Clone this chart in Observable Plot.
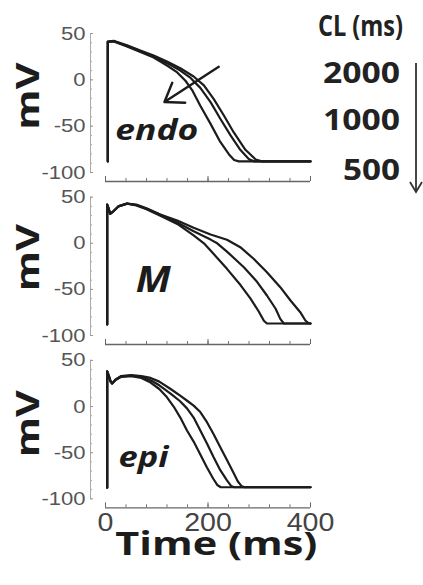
<!DOCTYPE html>
<html>
<head>
<meta charset="utf-8">
<script src="https://cdn.jsdelivr.net/npm/d3@7"></script>
<script src="https://cdn.jsdelivr.net/npm/@observablehq/plot@0.6"></script>
<style>
  body { margin: 0; background: #fff; }
  #chart { position: relative; width: 423px; height: 585px; overflow: hidden; background: #fff; }
  #chart svg { display: block; }
  #legend { position: absolute; left: 0; top: 0; pointer-events: none; }
</style>
</head>
<body>
<div id="chart"></div>
<script>
// ---------------- data ----------------
const cycleLengths = [2000, 1000, 500];
const legendTitle = "CL (ms)";
const panelNames = ["endo", "M", "epi"];
const yLabel = "mV";
const xLabel = "Time (ms)";
const yTicks = [-100, -50, 0, 50];
const yMinorTicks = [-100, -90, -80, -70, -60, -50, -40, -30, -20, -10, 0, 10, 20, 30, 40, 50];
const xTicks = [0, 200, 400];
const xMinorTicks = [0, 40, 80, 120, 160, 200, 240, 280, 320, 360, 400];

// [time (ms), membrane potential (mV)]
const endo500 = [[4.5,-88],[4.5,41],[16,41.5],[42,36],[68,30],[94,24],[120,15.5],[140,8],[156,-1],[169,-11],[185,-28],[205,-47.5],[224,-67],[241,-80.5],[251,-86.5],[260,-88],[400,-88]];
const endo1000 = [[4.5,-88],[4.5,41],[16,41.7],[42,36.6],[68,31],[94,25],[120,18],[146,10],[166,2],[185,-8.7],[205,-24],[224,-42],[244,-60],[263,-75.5],[280,-85.6],[290,-88],[400,-88]];
const endo2000 = [[4.5,-88],[4.5,41.3],[16,42],[42,37.4],[68,31.6],[94,26.2],[120,19.7],[146,12.5],[172,3.6],[192,-6],[211,-20.5],[231,-38.5],[250,-56.5],[273,-75.5],[293,-86],[305,-88],[400,-88]];

const m500 = [[3.3,-88],[3.3,42],[6,38],[9,32],[14,34],[25,40],[42,43],[60,41],[80,37],[107,30],[140,21],[172,8.5],[192,0],[205,-7.8],[237,-27.7],[263,-45],[283,-60],[299,-74],[309,-84],[315,-87],[400,-87]];
const m1000 = [[3.3,-88],[3.3,42],[6,38],[9,32],[14,34],[25,40],[42,43],[60,41.5],[80,37.5],[107,31],[140,22.5],[172,13],[205,4],[218,0],[237,-9],[270,-26],[296,-42],[315,-56.6],[332,-71],[341,-82],[348,-87],[400,-87]];
const m2000 = [[3.3,-88],[3.3,42],[6,38],[9,32],[14,34],[25,40],[42,43],[60,42],[80,38],[107,31.2],[140,24.7],[172,16.8],[205,9.5],[237,3.8],[263,-4.2],[289,-16.8],[315,-31.3],[341,-47.6],[361,-62],[380,-74.7],[390,-83.7],[397,-87],[400,-87]];

const epi500 = [[3.3,-88],[3.3,38],[6,34],[10,27],[13,25],[20,29],[30,32],[50,33],[70,31],[88,26],[105,19],[120,10],[133,0],[146,-12],[159,-26],[172,-38],[185,-52],[198,-66],[210,-78],[218,-85],[225,-87.5],[400,-87.5]];
const epi1000 = [[3.3,-88],[3.3,38],[6,34],[10,27],[13,25],[20,29],[30,32.5],[50,33.5],[70,32],[88,28.5],[105,23],[127,14],[145,6],[159,-2],[172,-12],[185,-26],[198,-40],[211,-55],[224,-69],[237,-80],[245,-86],[251,-87.5],[400,-87.5]];
const epi2000 = [[3.3,-88],[3.3,38],[6,34],[10,27],[13,25],[20,29.5],[30,33],[50,34],[70,33],[88,31],[105,27],[127,19],[145,12],[160,6],[172,1],[185,-6],[198,-17],[211,-30],[224,-44],[237,-58],[250,-72],[258,-81],[265,-86],[271,-87.5],[400,-87.5]];

// label anchor positions in data units [time, mV]
const panelLabelPos = [[100, -55], [93, -41], [74, -56]];
const yLabelPos = [-18, -16, -19];
// arrow in endo panel: [t1, v1, t2, v2]
const endoArrow = [221, 14, 115, -24];

const seriesByPanel = [
  {500: endo500, 1000: endo1000, 2000: endo2000},
  {500: m500, 1000: m1000, 2000: m2000},
  {500: epi500, 1000: epi1000, 2000: epi2000}
];

// ---------------- layout ----------------
const layout = [
  {height: 190, yBottom: 172, yTop: 33, labelSize: 29, labelWidth: 83},
  {height: 160, yBottom: 145, yTop: 6.7, labelSize: 35, labelWidth: 35},
  {height: 235, yBottom: 148.3, yTop: 9.9, labelSize: 28, labelWidth: 50}
];
const axisGap = 9;
const W = 330;
const yLabelX = 26;

function setLen(el, len) {
  el.setAttribute("textLength", len);
  el.setAttribute("lengthAdjust", "spacingAndGlyphs");
}
function shift(el, dx, dy) {
  if (Math.abs(dx) < 0.3 && Math.abs(dy) < 0.3) return;
  const tr = el.getAttribute("transform") || "";
  el.setAttribute("transform", `translate(${dx.toFixed(2)},${dy.toFixed(2)}) ${tr}`);
}
// stretch a text to a given length while keeping its anchor point where it was
function fitKeep(el, len, mode) {
  const r0 = el.getBoundingClientRect();
  if (!(len > 0)) return;
  setLen(el, len);
  const r1 = el.getBoundingClientRect();
  const dx = mode === "right" ? r0.right - r1.right : (r0.left + r0.right) / 2 - (r1.left + r1.right) / 2;
  const dy = (r0.top + r0.bottom) / 2 - (r1.top + r1.bottom) / 2;
  shift(el, dx, dy);
}
// stretch a text and centre its box on a target point of its svg
function fitAt(el, len, svg, cx, cy) {
  setLen(el, len);
  const s = svg.getBoundingClientRect();
  const r = el.getBoundingClientRect();
  shift(el, cx - ((r.left + r.right) / 2 - s.left), cy - ((r.top + r.bottom) / 2 - s.top));
}

const chart = document.getElementById("chart");
const ink = "#1c1c1c";

panelNames.forEach((name, i) => {
  const L = layout[i];
  const rows = [];
  for (const cl of cycleLengths) {
    for (const [t, v] of seriesByPanel[i][cl]) rows.push({t, v, cl});
  }
  const frameBottom = L.yBottom + axisGap;
  const isLast = i === panelNames.length - 1;
  const yLo = yTicks[0], yHi = yTicks[yTicks.length - 1];
  const xLo = xTicks[0], xHi = xTicks[xTicks.length - 1];

  const marks = [
    // y axis line and ticks (inward)
    Plot.ruleX([xLo], {y1: yLo, y2: yHi, dx: -15, stroke: "#aaa", strokeWidth: 1}),
    Plot.axisY(yMinorTicks, {tickSize: 2, dx: 2, fill: "none", stroke: "#aaa"}),
    Plot.axisY(yTicks, {tickSize: 3, dx: 3, fill: "none", stroke: "#999"}),
    Plot.axisY(yTicks, {tickSize: 0, tickPadding: 5, tickFormat: d => String(d), fontSize: 19, fill: "#555", fontFamily: "Liberation Sans, Arial, sans-serif"}),
    // x axis line and ticks (inward)
    Plot.ruleY([yLo], {x1: xLo, x2: xHi, dy: axisGap, stroke: "#666", strokeWidth: 1.3}),
    Plot.axisX(xMinorTicks, {tickSize: 3, dy: -3, fill: "none", stroke: "#777"}),
    Plot.axisX(xTicks, {tickSize: 5, dy: -5, fill: "none", stroke: "#666"}),
    // traces
    Plot.line(rows, {x: "t", y: "v", z: "cl", stroke: ink, strokeWidth: 2.2, strokeLinejoin: "round"}),
    // panel label
    Plot.text([{text: name, t: panelLabelPos[i][0], v: panelLabelPos[i][1]}], {
      x: "t", y: "v", text: "text", fontSize: L.labelSize, fontWeight: "bold", fontStyle: "italic",
      fontFamily: "Open Sans, sans-serif", fill: ink
    }),
    // y label
    Plot.text([{text: yLabel, v: yLabelPos[i]}], {
      frameAnchor: "left", y: "v", text: "text", rotate: -90, dx: -64, fontSize: 32,
      fontWeight: "bold", fontFamily: "Open Sans, sans-serif", fill: ink
    })
  ];
  if (i === 0) {
    marks.push(Plot.arrow([endoArrow], {
      x1: d => d[0], y1: d => d[1], x2: d => d[2], y2: d => d[3],
      stroke: ink, strokeWidth: 2.4, headLength: 13, headAngle: 70
    }));
  }
  if (isLast) {
    marks.push(Plot.axisX(xTicks, {tickSize: 0, tickPadding: 5, tickFormat: d => String(d), fontSize: 26, fill: "#444", fontFamily: "Liberation Sans, Arial, sans-serif"}));
    marks.push(Plot.text([xLabel], {
      frameAnchor: "bottom", text: d => d, dy: 47, dx: 5.8, fontSize: 33, fontWeight: "bold",
      fontFamily: "Open Sans, sans-serif", fill: ink
    }));
  }

  const svg = Plot.plot({
    width: W,
    height: L.height,
    marginLeft: 90,
    marginRight: 0,
    marginTop: 0,
    marginBottom: L.height - frameBottom,
    style: {background: "transparent", overflow: "visible", fontFamily: "Liberation Sans, Arial, sans-serif"},
    x: {domain: [xLo, xHi], range: [105, 310], axis: null, label: null},
    y: {domain: [yLo, yHi], range: [L.yBottom, L.yTop], axis: null, label: null},
    marks
  });
  chart.appendChild(svg);
  const yScale = svg.scale("y");

  // drop any empty text left by tick-only axes
  svg.querySelectorAll("text").forEach(t => { if (t.textContent.trim() === "") t.remove(); });

  // horizontal stretch of texts, as in the reference picture
  svg.querySelectorAll("text").forEach(t => {
    const s = t.textContent.trim();
    if (s === yLabel) fitAt(t, 67, svg, yLabelX, yScale.apply(yLabelPos[i]));
    else if (s === name) fitKeep(t, L.labelWidth, "center");
    else if (s === xLabel) fitKeep(t, 202, "center");
    else if (/^-?\d+$/.test(s)) {
      const isY = !!t.closest('[text-anchor="end"]');
      fitKeep(t, t.getComputedTextLength() * (isY ? 1.16 : 1.1), isY ? "right" : "center");
    }
  });
});

// ---------------- legend ----------------
const legend = d3.select(chart).append("svg")
  .attr("id", "legend").attr("width", 423).attr("height", 200);
const lf = "Open Sans, sans-serif";
const title = legend.append("text")
  .attr("x", 403).attr("y", 36).attr("text-anchor", "end")
  .attr("font-family", lf).attr("font-weight", "bold").attr("font-size", 28).attr("fill", "#222")
  .text(legendTitle);
fitKeep(title.node(), 85, "right");
const legendY = [83, 130, 180];
const legendW = [77, 77, 57];
cycleLengths.forEach((cl, k) => {
  const t = legend.append("text")
    .attr("x", 400).attr("y", legendY[k]).attr("text-anchor", "end")
    .attr("font-family", lf).attr("font-weight", "bold").attr("font-size", 28).attr("fill", "#222")
    .text(String(cl));
  fitKeep(t.node(), legendW[k], "right");
});
legend.append("line").attr("x1", 416).attr("x2", 416).attr("y1", 63).attr("y2", 191)
  .attr("stroke", "#333").attr("stroke-width", 1.8);
legend.append("path").attr("d", "M410,182 L416,192 L422,182")
  .attr("fill", "none").attr("stroke", "#333").attr("stroke-width", 1.8);
</script>
</body>
</html>
